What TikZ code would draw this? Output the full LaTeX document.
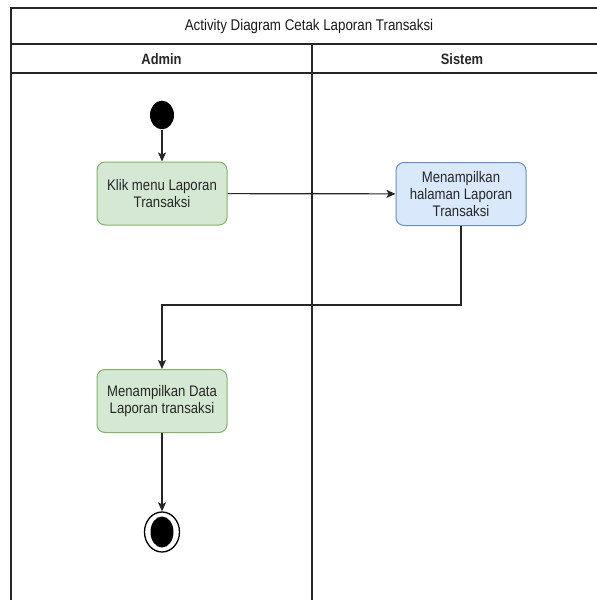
\documentclass[tikz,border=0pt]{standalone}
\usepackage{fontspec}
\setmainfont{Liberation Sans}[FakeStretch=0.86]
\usetikzlibrary{arrows.meta,shapes.geometric}
\definecolor{actgreen}{HTML}{D5E8D4}
\definecolor{actgreenline}{HTML}{82B366}
\definecolor{actblue}{HTML}{DAE8FC}
\definecolor{actblueline}{HTML}{6C8EBF}
\tikzset{
  lane/.style={line width=1.3pt, draw=black!85},
  label/.style={font=\fontsize{15.5}{17}\selectfont, text=black!90},
  lanelabel/.style={font=\fontsize{15}{17}\selectfont\bfseries, text=black!85},
  action/.style={rectangle, rounded corners=8pt, line width=1pt,
    minimum width=130pt, minimum height=63pt, align=center,
    font=\fontsize{15.3}{17}\selectfont, text=black!85},
  useraction/.style={action, fill=actgreen, draw=actgreenline},
  sysaction/.style={action, fill=actblue, draw=actblueline},
  initial/.style={ellipse, fill=black, minimum width=24pt, minimum height=28.6pt, inner sep=0pt},
  finalring/.style={ellipse, draw=black, line width=1.3pt, fill=white, minimum width=35pt, minimum height=40pt, inner sep=0pt},
  finalcore/.style={ellipse, fill=black, minimum width=23pt, minimum height=31pt, inner sep=0pt},
  flow/.style={line width=1.2pt, draw=black!85, -{Stealth[length=9pt,width=8pt,inset=2pt]}}
}
\begin{document}
\begin{tikzpicture}[x=1pt,y=-1pt]
\useasboundingbox (0,0) rectangle (597,600);

% swimlane frame
\draw[lane] (11,600) -- (11,8) -- (640,8);
\draw[lane] (11,44) -- (640,44);
\draw[lane] (11,73) -- (640,73);
\draw[lane] (312,44) -- (312,600);

\node[label] (title) at (309,26) {Activity Diagram Cetak Laporan Transaksi};
\node[lanelabel] (admin) at (161.5,59) {Admin};
\node[lanelabel] (sistem) at (462,59) {Sistem};

% activities
\node[initial] (start) at (162,115) {};
\node[useraction] (klik) at (162,193.5) {Klik menu Laporan\\Transaksi};
\node[sysaction] (tampil) at (461,194) {Menampilkan\\halaman Laporan\\Transaksi};
\node[useraction] (data) at (162,401) {Menampilkan Data\\Laporan transaksi};
\node[finalring] (end) at (162,532) {};
\node[finalcore] (endcore) at (162,532) {};
\coordinate (turn) at (461,305);

% control flow
\draw[flow] (start) -- (klik);
\draw[flow] (klik) -- (tampil);
\draw[flow] (tampil.south) -- (turn) -| (data.north);
\draw[flow] (data) -- (end);
\end{tikzpicture}
\end{document}
